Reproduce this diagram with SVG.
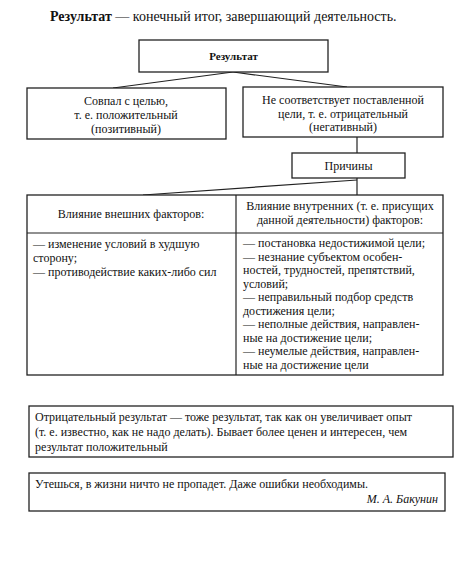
<svg xmlns="http://www.w3.org/2000/svg" width="469" height="579" viewBox="0 0 469 579">
<style>
text{font-family:"Liberation Serif","Times New Roman",serif;fill:#111;}
.t{font-size:12px;}
.c{text-anchor:middle;}
.b{font-weight:bold;}
rect{fill:#fff;stroke:#222;stroke-width:1.3;}
line{stroke:#222;stroke-width:1.2;}
</style>
<rect x="0" y="0" width="469" height="579" style="stroke:none"/>
<text x="50" y="21" style="font-size:14px"><tspan class="b">Результат</tspan> — конечный итог, завершающий деятельность.</text>
<g id="connectors">
<line x1="233" y1="72" x2="113" y2="88"/>
<line x1="233" y1="72" x2="347" y2="87"/>
<line x1="357" y1="137" x2="357" y2="153"/>
<line x1="357" y1="178" x2="357" y2="195"/>
<line x1="357" y1="180" x2="143" y2="195"/>
</g>
<g id="result">
<rect x="139" y="40" width="189" height="32"/>
<text class="t c b" x="233.5" y="60" style="font-size:11px">Результат</text>
</g>
<g id="positive">
<rect x="27" y="88" width="199" height="51"/>
<text class="t c" x="126" y="105">Совпал с целью,</text>
<text class="t c" x="126" y="119">т. е. положительный</text>
<text class="t c" x="126" y="133">(позитивный)</text>
</g>
<g id="negative">
<rect x="243" y="87" width="200" height="50"/>
<text class="t c" x="343" y="104">Не соответствует поставленной</text>
<text class="t c" x="343" y="118">цели, т. е. отрицательный</text>
<text class="t c" x="343" y="131">(негативный)</text>
</g>
<g id="reasons">
<rect x="292" y="153" width="113" height="25"/>
<text class="t c" x="348.5" y="170">Причины</text>
</g>
<g id="factors">
<rect x="27" y="195" width="416" height="180"/>
<line x1="236" y1="195" x2="236" y2="375"/>
<line x1="27" y1="233" x2="443" y2="233"/>
<text class="t c" x="131" y="218">Влияние внешних факторов:</text>
<text class="t c" x="340" y="210">Влияние внутренних (т. е. присущих</text>
<text class="t c" x="340" y="224">данной деятельности) факторов:</text>
<text class="t" x="33" y="248">— изменение условий в худшую</text>
<text class="t" x="33" y="262">сторону;</text>
<text class="t" x="33" y="276">— противодействие каких-либо сил</text>
<text class="t" x="243" y="247">— постановка недостижимой цели;</text>
<text class="t" x="243" y="260.5">— незнание субъектом особен-</text>
<text class="t" x="243" y="274">ностей, трудностей, препятствий,</text>
<text class="t" x="243" y="287.5">условий;</text>
<text class="t" x="243" y="301">— неправильный подбор средств</text>
<text class="t" x="243" y="314.5">достижения цели;</text>
<text class="t" x="243" y="328">— неполные действия, направлен-</text>
<text class="t" x="243" y="341.5">ные на достижение цели;</text>
<text class="t" x="243" y="355">— неумелые действия, направлен-</text>
<text class="t" x="243" y="368.5">ные на достижение цели</text>
</g>
<g id="note">
<rect x="29" y="406" width="424" height="51"/>
<text class="t" x="35" y="421">Отрицательный результат — тоже результат, так как он увеличивает опыт</text>
<text class="t" x="35" y="436">(т. е. известно, как не надо делать). Бывает более ценен и интересен, чем</text>
<text class="t" x="35" y="451">результат положительный</text>
</g>
<g id="quote">
<rect x="29" y="473" width="416" height="38"/>
<text class="t" x="35" y="488">Утешься, в жизни ничто не пропадет. Даже ошибки необходимы.</text>
<text class="t" x="438" y="503" style="text-anchor:end;font-style:italic">М. А. Бакунин</text>
</g>
</svg>
